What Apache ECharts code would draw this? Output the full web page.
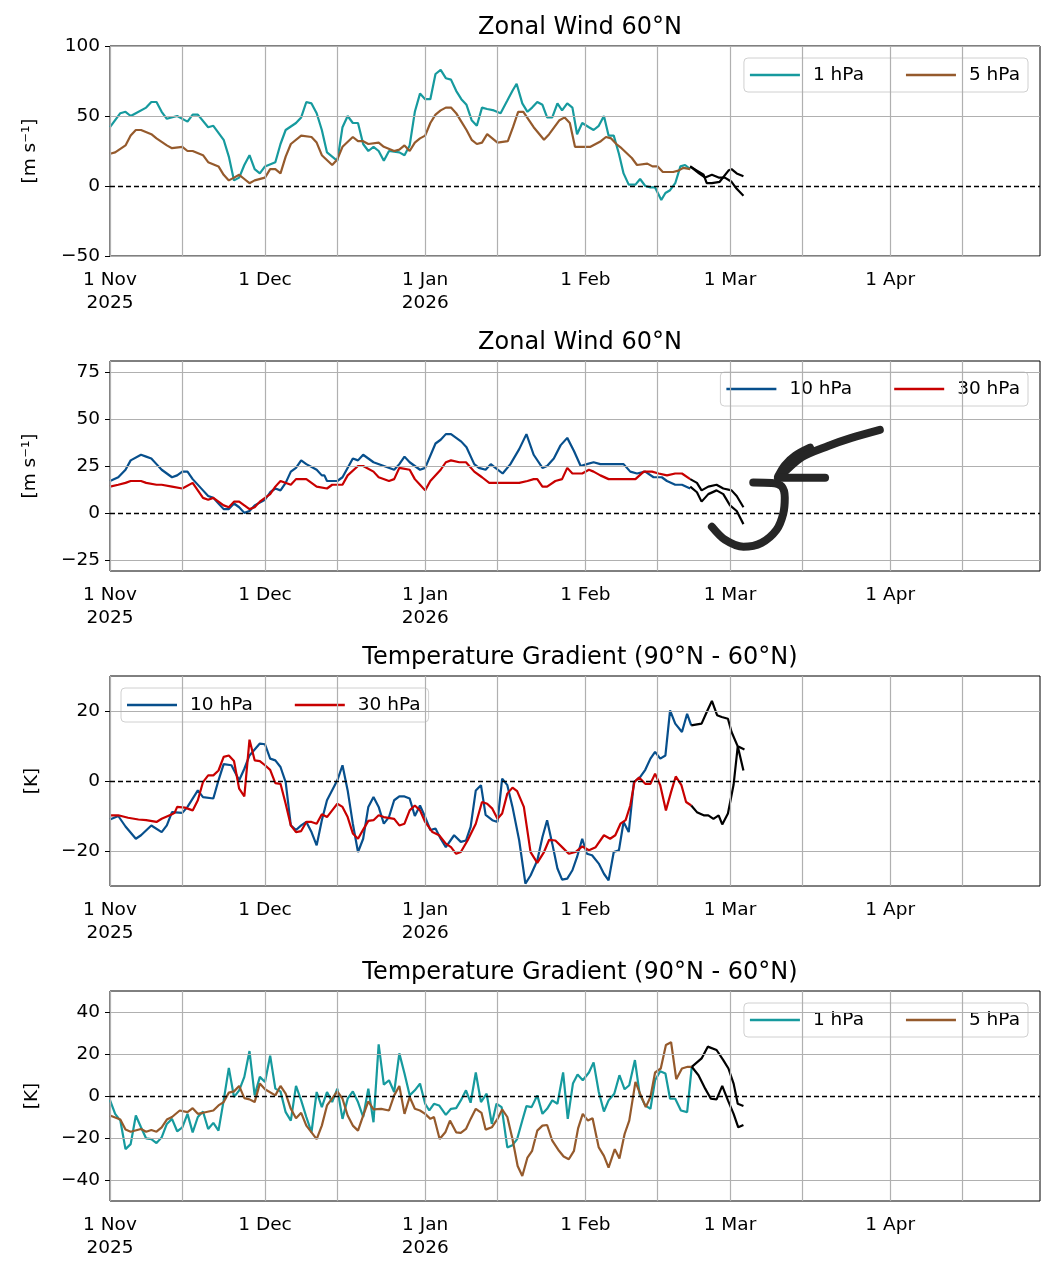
<!DOCTYPE html>
<html><head><meta charset="utf-8">
<script src="https://cdn.jsdelivr.net/npm/echarts@6/dist/echarts.min.js"></script>
<style>html,body{margin:0;background:#fff}#c{width:1054px;height:1274px}</style>
</head><body><div id="c"></div>
<script>
// x = days since 1 Nov 2025
const majorTicks=[0,30,61,92,120,151];
const majorLabels=['1 Nov\n2025','1 Dec','1 Jan\n2026','1 Feb','1 Mar','1 Apr'];
const minorTicks=[14,44,75,106,134,165];
const titles=['Zonal Wind 60°N','Zonal Wind 60°N','Temperature Gradient (90°N - 60°N)','Temperature Gradient (90°N - 60°N)'];
const yNames=['[m s⁻¹]','[m s⁻¹]','[K]','[K]'];
const yTicks=[[-50,0,50,100],[-25,0,25,50,75],[-20,0,20],[-40,-20,0,20,40]];
const yRange=[[-50,100],[-31,81],[-30,30],[-50,50]];

const u1_1hPa=[[0,42],[2,52],[3,53],[4,50],[5,52],[7,56],[8,60],[9,60],[10,53],[11,48],[13,50],[15,46],[16,51],[17,51],[19,42],[20,43],[22,33],[23,21],[24,4],[25,6],[26,15],[27,22],[28,12],[29,9],[30,14],[32,17],[33,30],[34,40],[36,45],[37,49],[38,60],[39,59],[40,52],[41,40],[42,24],[44,18],[45,42],[46,50],[47,45],[48,45],[49,30],[50,25],[51,28],[52,25],[53,18],[54,25],[56,24],[57,22],[58,29],[59,53],[60,66],[61,62],[62,62],[63,80],[64,83],[65,77],[66,76],[67,68],[68,62],[69,58],[70,47],[71,43],[72,56],[73,55],[74.3,54],[75.6,52],[76.9,61],[77.9,68],[78.7,73],[79.8,59],[80.8,53],[81.7,56],[82.7,60],[83.7,58],[84.6,49],[85.6,49],[86.6,59],[87.5,54],[88.5,59],[89.5,56],[90.4,37],[91.4,45],[92.7,42],[93.6,40],[94.6,43],[95.6,50],[96.5,36],[97.5,36],[98.5,23],[99.4,9],[100.4,1],[101.7,1],[102.6,5],[103.6,0],[104.6,-1],[105.5,-1],[106.7,-10],[107.5,-5],[108.4,-3],[109.4,2],[110.4,14],[111.3,15],[112.3,12]];
const u1_5hPa=[[0,23],[1,24],[3,29],[4,36],[5,40],[6,40],[8,37],[9,34],[11,29],[12,27],[14,28],[15,25],[16,25],[18,22],[19,17],[21,14],[22,8],[23,4],[24,6],[25,8],[26,5],[27,2],[28,4],[30,6],[31,12],[32,12],[33,9],[34,21],[35,30],[37,36],[39,35],[40,31],[41,22],[43,15],[44,19],[45,28],[47,35],[48,32],[49,32],[50,30],[52,31],[53,28],[55,25],[56,26],[57,29],[58,25],[59,31],[60,34],[61,36],[62,45],[63,51],[64,54],[65,56],[66,56],[67,52],[68,46],[69,40],[70,33],[71,30],[72,31],[73,37],[74,34],[75,31],[77,32],[78,42],[79,53],[80,53],[82,42],[84,33],[85,37],[86,42],[87,47],[88,49],[89,45],[90,28],[92,28],[93,28],[95,32],[96,35],[97,34],[98,30],[99,27],[101,20],[102,15],[104,16],[105,14],[106,14],[107,10],[109,10],[110,11],[111,13],[112.3,12]];
const u1_fcA=[[112.3,14],[113.6,11],[114.9,8],[115.5,2],[116.5,2],[118,3],[119.7,11],[120.3,12],[121.3,9],[122.6,7]];
const u1_fcB=[[112.3,14],[114,9],[115.2,6],[116.5,8],[117.8,6],[119,6],[120.3,3],[121.3,-2],[122.6,-7]];

const u2_10hPa=[[0,17],[1.6,19],[3,23],[4,28],[6,31],[7,30],[8,29],[9,26],[10,23],[12,19],[13,20],[14,22],[15,22],[16,18],[18,12],[19,9],[20,8],[21,5],[22,2],[23,2],[24,5],[25,3],[26,0],[27,1],[28,4],[30,7],[31,11],[32,13],[33,12],[34,16],[35,22],[36,24],[37,28],[38,26],[40,23],[41,20],[41.5,20],[42,17],[43,17],[44,17],[45,19],[47,29],[48,28],[49,31],[50,29],[51,27],[53,25],[55,23],[56,26],[57,30],[58,27],[60,23],[61,24],[63,37],[64,39],[65,42],[66,42],[68,38],[69,35],[70.5,26],[71.4,24],[72.7,23],[73.7,26],[74.6,24],[76,21],[77.5,26],[79.2,34],[80.6,42],[82,31],[83.7,24],[84.6,25],[85.9,29],[87.2,36],[88.5,40],[89.8,33],[91.1,25],[92.3,26],[93.6,27],[94.9,26],[96.9,26],[99.4,26],[100.7,22],[102,21],[103.6,22],[105.2,19],[106.8,19],[107.8,17],[109.4,15],[110.7,15],[112.3,13]];
const u2_30hPa=[[0,14],[1.6,15],[3,16],[4,17],[6,17],[7,16],[9,15],[10,15],[12,14],[14,13],[16,16],[17,12],[18,8],[19,7],[20,8],[22,4],[23,3],[24,6],[25,6],[26,4],[27,2],[28,3],[29,6],[31,10],[32,14],[33,17],[35,15],[36,18],[37,18],[38,18],[40,14],[42,13],[43,15],[45,15],[46,20],[48,25],[49,25],[51,22],[52,19],[54,17],[55,18],[56,24],[58,23],[59,18],[60,15],[61,12],[62,17],[64,23],[65,27],[66,28],[67.6,27],[68.9,27],[70.5,22],[72,19],[73.4,16],[75.3,16],[77.2,16],[79.2,16],[80.8,17],[82,18],[82.7,18],[83.7,14],[84.6,14],[86.2,17],[87.5,18],[88.5,24],[89.5,21],[91.4,21],[92.7,23],[93.6,22],[94.9,20],[96.5,18],[98.5,18],[101.7,18],[103.3,22],[104.9,22],[106.2,21],[107.8,20],[109.4,21],[110.7,21],[112.3,18]];
const u2_fcA=[[112.3,18],[113.6,16],[114.5,12],[115.8,14],[117.4,15],[118.7,13],[120.3,12],[121.3,9],[122.6,3]];
const u2_fcB=[[112.3,14],[113.6,11],[114.5,6],[115.8,10],[117.4,12],[118.7,10],[120,4],[121.3,1],[122.6,-6]];
const scribble1=[[116.5,-7.4],[119,-14.3],[122.6,-18.1],[126.1,-16],[129,-9.1],[130.3,-0.5],[130.6,8.1],[130,14.1],[128.1,15.9],[124.5,16.2]];
const scribble2=[[129.3,19.3],[130.6,25.3],[132.6,30.5],[135.5,34.8]];
const scribble3=[[129.3,18.4],[133.9,29.7],[139,35.7],[143.5,40],[149,44.3]];
const scribble4=[[129.7,18.8],[138.4,18.8]];

const t_10hPa=[[0,-11],[1.6,-10],[3,-13],[5,-16.5],[6,-15.5],[8,-12.7],[10,-14.6],[11,-12.7],[12,-8.9],[14,-9.1],[15,-7.4],[17,-2.7],[18,-4.6],[20,-5],[21,0.2],[22,4.8],[23.5,4.5],[25,0.2],[26,3.5],[27,7.3],[29,10.7],[30,10.5],[31,6.4],[32,5.9],[33,4],[34,-0.3],[35,-12.7],[36,-14],[37,-12.7],[38,-11.7],[39,-14.6],[40,-18.4],[41,-11.2],[42,-5.5],[44,0.2],[45,4.5],[46,-2.7],[47,-12.2],[48,-20.3],[49,-16.5],[50,-7.4],[51,-4.6],[52,-7.4],[53,-12.2],[54,-10.3],[55,-5.5],[56,-4.4],[57,-4.4],[58,-5],[59,-10],[60,-7],[61,-10.3],[62,-14],[63,-13.6],[64,-16.5],[65,-18.9],[66.6,-15.5],[67.9,-17.4],[68.9,-17],[69.8,-13.1],[70.8,-2.7],[71.8,-1.2],[72.7,-9.7],[74,-11.2],[75,-11.7],[75.9,0.7],[76.9,-1.2],[77.9,-7.4],[79.2,-17],[80.4,-29.3],[81.4,-27],[82.7,-22.7],[83.7,-16],[84.6,-11.2],[85.6,-17.9],[86.6,-25],[87.5,-28.2],[88.5,-27.9],[89.5,-25.5],[90.4,-21.7],[91.4,-16.5],[92.3,-20.8],[93.3,-21.2],[94.6,-23.6],[95.6,-26.5],[96.5,-28.4],[97.5,-20.3],[98.5,-19.8],[99.4,-11.7],[100.4,-14.6],[101.4,-0.3],[102.6,1.1],[103.6,3.2],[104.6,6.4],[105.5,8.3],[106.5,6.4],[107.5,7.3],[108.4,20.2],[109.4,16.4],[110.7,14],[111.7,19.2],[112.5,15.9]];
const t_30hPa=[[0,-9.8],[1.6,-9.8],[3.5,-10.5],[5.5,-11],[7,-11.2],[9,-11.7],[10,-10.8],[12,-9.5],[12.5,-9.1],[13,-7.4],[14.5,-7.6],[16,-8.4],[17,-5.5],[18,-0.3],[19,1.6],[20,1.6],[21,3],[22,6.9],[23,7.3],[24,5.7],[25,-2.2],[26,-4.4],[27,11.8],[28,5.9],[29,5.7],[30,4.5],[31,3.2],[32,-0.6],[33,-0.8],[34,-6.5],[35,-12.7],[36,-14.6],[37,-14.3],[38,-11.7],[39,-11.7],[40,-12.2],[41,-9.5],[42,-10.3],[43,-8.4],[44,-6.5],[45,-7.4],[46,-10.3],[47,-15],[48,-16.5],[49,-13.9],[50,-11.4],[51,-11.2],[52,-9.8],[53,-10.3],[55,-10.8],[56,-12.7],[57,-12.2],[58,-8.4],[59,-7],[60,-8.4],[61,-11.7],[62.4,-14.6],[63.7,-15.5],[65,-17.9],[66,-18.9],[67,-20.8],[67.9,-20.3],[69.2,-17],[70.8,-12.2],[72,-6],[73,-6.5],[74,-7.9],[75,-10.8],[75.9,-9.3],[76.9,-3.6],[77.9,-1.9],[78.8,-2.9],[80.1,-7.4],[81.4,-20.3],[82.7,-23.4],[84,-20.3],[85,-16.8],[86.2,-17],[87.5,-18.9],[88.8,-20.8],[90.1,-20.3],[91.4,-18.7],[92.7,-19.8],[94,-18.9],[95.6,-15.5],[96.8,-16.5],[97.8,-15.5],[98.8,-12.2],[99.8,-11.2],[100.7,-7],[101.5,-0.3],[102.4,1],[103.6,-0.8],[104.6,-0.8],[105.5,2.1],[106.5,-1.2],[107.6,-8.4],[108.6,-3.1],[109.5,1.3],[110.6,-1.2],[111.5,-6],[112.5,-7]];
const t_fcA=[[112.5,15.9],[114.5,16.4],[115.5,19.7],[116.5,22.9],[117.5,18.8],[118.4,18.3],[119.6,17.8],[120.3,14],[121.5,9.9],[122.8,9]];
const t_fcB=[[112.5,-7],[113.6,-8.9],[114.9,-9.8],[115.8,-9.8],[116.8,-10.8],[117.8,-9.8],[118.5,-12.4],[119.6,-9.3],[120.7,-1],[121.5,9.9],[122.6,3]];

const t4_1hPa=[[0,-2],[1,-8.5],[2,-11.7],[3,-25.3],[4,-22.9],[5,-9.3],[6,-14.9],[7,-20.2],[8,-20.5],[9,-22.4],[10,-19.7],[11,-13.3],[12,-10.9],[13,-16.8],[14,-14.9],[15,-8.5],[16,-17.3],[17,-10],[18,-7.4],[19,-15.7],[20,-12.8],[21,-16.5],[22,-2.1],[23,13.4],[24,-0.5],[25,2.7],[26,9.1],[27,21.4],[28,0.3],[29,9.1],[30,6.7],[31,19.2],[32,3.5],[33,2.2],[34,-7.7],[35,-11.7],[36,4.8],[37,-2.1],[38,-10],[39,-17.3],[40,1.9],[41,-5.3],[42,1.9],[43,-2.9],[44,3.5],[45,-10.9],[46,-1.3],[47,2.2],[48,-2.9],[49,-10],[50,3.5],[51,-12.5],[52,24.6],[53,5.4],[54,7.5],[55,1.9],[56,20.3],[57,10.7],[58,0.3],[59,2.7],[60,5.9],[61,-3.7],[61.8,-6.9],[62.7,-3.7],[63.7,-4.5],[65,-9],[66,-6.1],[67,-5.8],[67.9,-2.1],[68.9,2.7],[69.8,-3.2],[70.8,11.2],[71.8,-2.9],[72.9,1.1],[73.9,-13.3],[74.8,-3.7],[75.8,-5.3],[76.9,-24.5],[77.9,-23.4],[78.8,-20.5],[79.8,-11.7],[80.6,-4.8],[81.6,-5.3],[82.7,0.3],[83.7,-8.5],[84.6,-6.1],[85.6,-2.1],[86.6,-3.7],[87.7,11.2],[88.6,-10.9],[89.6,5.9],[90.5,10.2],[91.5,7.5],[92.7,11.2],[93.6,16],[94.6,1.9],[95.6,-7.4],[96.5,-2.1],[97.6,1.1],[98.6,9.9],[99.6,3.2],[100.5,5.1],[101.6,17.1],[102.5,1.1],[103.6,-4.5],[104.6,-6.1],[105.5,7.5],[106.5,11.8],[107.5,10.7],[108.4,-1.3],[109.4,-1.3],[110.5,-6.9],[111.7,-7.7],[112.6,13.9]];
const t4_5hPa=[[0,-9.3],[2,-11.2],[3,-16],[4,-17],[6,-15.7],[7,-17],[8,-16.2],[9,-17],[10,-14.9],[11,-11.2],[12,-10],[13.5,-6.9],[15,-7.7],[16,-5.8],[17,-8.5],[18,-8],[20,-6.9],[21,-4.5],[22,-2.9],[23,1.6],[24,2.2],[25,4.8],[26,-1],[27,-1.6],[28,-2.9],[29,5.9],[30,3.2],[32,0.3],[33,4.8],[34,1.1],[35,-6.1],[36,-10.6],[37,-8],[38,-14.1],[40,-20.5],[41,-14.1],[42,-4.5],[44,2.2],[45,-1.3],[46,-9.3],[47,-14.1],[48,-16.5],[49,-9.3],[50,-2.6],[51,-6.4],[52.5,-6.1],[54,-6.9],[55,0.3],[56,4.8],[57,-8.5],[58,-0.5],[59,-6.1],[60,-6.9],[61,-8.5],[62,-10.9],[62.7,-10],[63.8,-20.5],[64.9,-17.3],[65.8,-11.7],[67,-17.3],[67.9,-17.6],[68.9,-15.7],[69.8,-10.9],[70.8,-6.1],[71.9,-8],[72.7,-16],[73.9,-14.9],[75,-10.9],[75.9,-6.4],[76.9,-10],[77.9,-20.5],[78.9,-33.3],[79.8,-38.1],[80.8,-29.3],[81.7,-26.1],[82.7,-16.5],[83.7,-14.1],[84.6,-13.8],[85.6,-21.3],[86.9,-26.1],[87.8,-28.8],[88.8,-30.1],[89.8,-26.1],[90.6,-15.4],[91.5,-8.5],[92.5,-11.7],[93.4,-10.6],[94.6,-24.5],[95.6,-28.5],[96.5,-34.1],[97.7,-25.3],[98.6,-29.8],[99.6,-18.1],[100.5,-11.7],[101.7,6.7],[102.6,1.1],[103.7,-5.3],[104.6,-0.5],[105.5,11.2],[106.6,13.1],[107.6,24.3],[108.6,25.6],[109.6,8],[110.7,13.1],[111.8,13.9],[112.6,13.9]];
const t4_fcA=[[112.6,13.9],[114.5,17.9],[115.7,23.5],[117.4,21.9],[118.7,17.1],[119.7,13.1],[120.7,5.9],[121.5,-3.7],[122.6,-4.8]];
const t4_fcB=[[112.6,13.9],[113.9,9.9],[115.2,3.5],[116.3,-1.3],[117.4,-1.6],[118.5,4.8],[119.6,-2.1],[120.7,-8.5],[121.6,-14.9],[122.6,-13.8]];

const TEAL='#169a9e', BROWN='#955a2c', NAVY='#074f8c', RED='#c80000';
const FONT='DejaVu Sans';
const FS=18.5;
const tops=[46,361,676,991];
const grids=[],xAxes=[],yAxes=[],titleArr=[],series=[];
for(let i=0;i<4;i++){
  grids.push({left:110,right:14,top:tops[i],height:210,show:true,borderColor:'#000',borderWidth:1,backgroundColor:'#fff'});
  xAxes.push({gridIndex:i,type:'value',min:0,max:180,
    axisLine:{show:false},splitLine:{show:false},
    axisTick:{show:true,customValues:majorTicks.concat(minorTicks),length:5,lineStyle:{color:'#000'}},
    axisLabel:{show:true,customValues:majorTicks,formatter:v=>majorLabels[majorTicks.indexOf(v)]||'',color:'#000',fontSize:FS,fontFamily:FONT,lineHeight:23,margin:13}});
  yAxes.push({gridIndex:i,type:'value',min:yRange[i][0],max:yRange[i][1],
    name:yNames[i],nameLocation:'middle',nameGap:i<2?70:68,nameRotate:90,nameTextStyle:{color:'#000',fontSize:FS,fontFamily:FONT},
    axisLine:{show:false},splitLine:{show:false},
    axisTick:{show:true,customValues:yTicks[i],length:5,lineStyle:{color:'#000'}},
    axisLabel:{customValues:yTicks[i],formatter:v=>String(v).replace('-','\u2212'),color:'#000',fontSize:FS,fontFamily:FONT,margin:10}});
  titleArr.push({text:titles[i],left:575,top:tops[i]-35,textAlign:'center',textStyle:{fontFamily:FONT,fontSize:24,fontWeight:'normal',color:'#000'}});
  const ml=[];
  majorTicks.concat(minorTicks).forEach(v=>ml.push({xAxis:v,lineStyle:{color:'#b0b0b0',width:1.2,type:'solid'}}));
  yTicks[i].forEach(v=>{ if(v!==0) ml.push({yAxis:v,lineStyle:{color:'#b0b0b0',width:1.2,type:'solid'}}); });
  ml.push({yAxis:0,lineStyle:{color:'#000',width:1.4,type:[5,3]}});
  series.push({type:'line',xAxisIndex:i,yAxisIndex:i,data:[],silent:true,z:1,
    markLine:{silent:true,symbol:'none',label:{show:false},data:ml,animation:false}});
}
function ln(i,name,data,color,w,z){
  series.push({type:'line',name:name,xAxisIndex:i,yAxisIndex:i,data:data,showSymbol:false,symbol:'none',
    lineStyle:{color:color,width:w||2.2},itemStyle:{color:color},z:z||3,animation:false});
}
ln(0,'1 hPa',u1_1hPa,TEAL);ln(0,'5 hPa',u1_5hPa,BROWN);
ln(0,'fc',u1_fcA,'#000',2.2,4);ln(0,'fc',u1_fcB,'#000',2.2,4);
ln(1,'10 hPa',u2_10hPa,NAVY);ln(1,'30 hPa',u2_30hPa,RED);
ln(1,'fc',u2_fcA,'#000',2.2,4);ln(1,'fc',u2_fcB,'#000',2.2,4);
[scribble1,scribble2,scribble3,scribble4].forEach(s=>series.push({type:'line',xAxisIndex:1,yAxisIndex:1,data:s,smooth:0.3,
  showSymbol:false,symbol:'none',lineStyle:{color:'#262626',width:8,cap:'round',join:'round'},z:6,animation:false}));
ln(2,'10 hPa',t_10hPa,NAVY);ln(2,'30 hPa',t_30hPa,RED);
ln(2,'fc',t_fcA,'#000',2.2,4);ln(2,'fc',t_fcB,'#000',2.2,4);
ln(3,'1 hPa',t4_1hPa,TEAL);ln(3,'5 hPa',t4_5hPa,BROWN);
ln(3,'fc',t4_fcA,'#000',2.2,4);ln(3,'fc',t4_fcB,'#000',2.2,4);

function lg(data,pos){return Object.assign({data:data.map(n=>({name:n,icon:'rect'})),orient:'horizontal',itemWidth:50,itemHeight:2.5,itemGap:42,
  padding:[7,8,7,6],borderColor:'#d0d0d0',borderWidth:1,borderRadius:4,backgroundColor:'rgba(255,255,255,0.8)',
  selectedMode:false,textStyle:{fontFamily:FONT,fontSize:FS,color:'#000',padding:[0,0,0,8],lineHeight:20}},pos);}
const chart=echarts.init(document.getElementById('c'),null,{renderer:'canvas'});
chart.setOption({animation:false,backgroundColor:'#fff',title:titleArr,grid:grids,xAxis:xAxes,yAxis:yAxes,series:series,
  legend:[lg(['1 hPa','5 hPa'],{right:26,top:58}),lg(['10 hPa','30 hPa'],{right:26,top:372}),
          lg(['10 hPa','30 hPa'],{left:121,top:688}),lg(['1 hPa','5 hPa'],{right:26,top:1003})]});
</script></body></html>
